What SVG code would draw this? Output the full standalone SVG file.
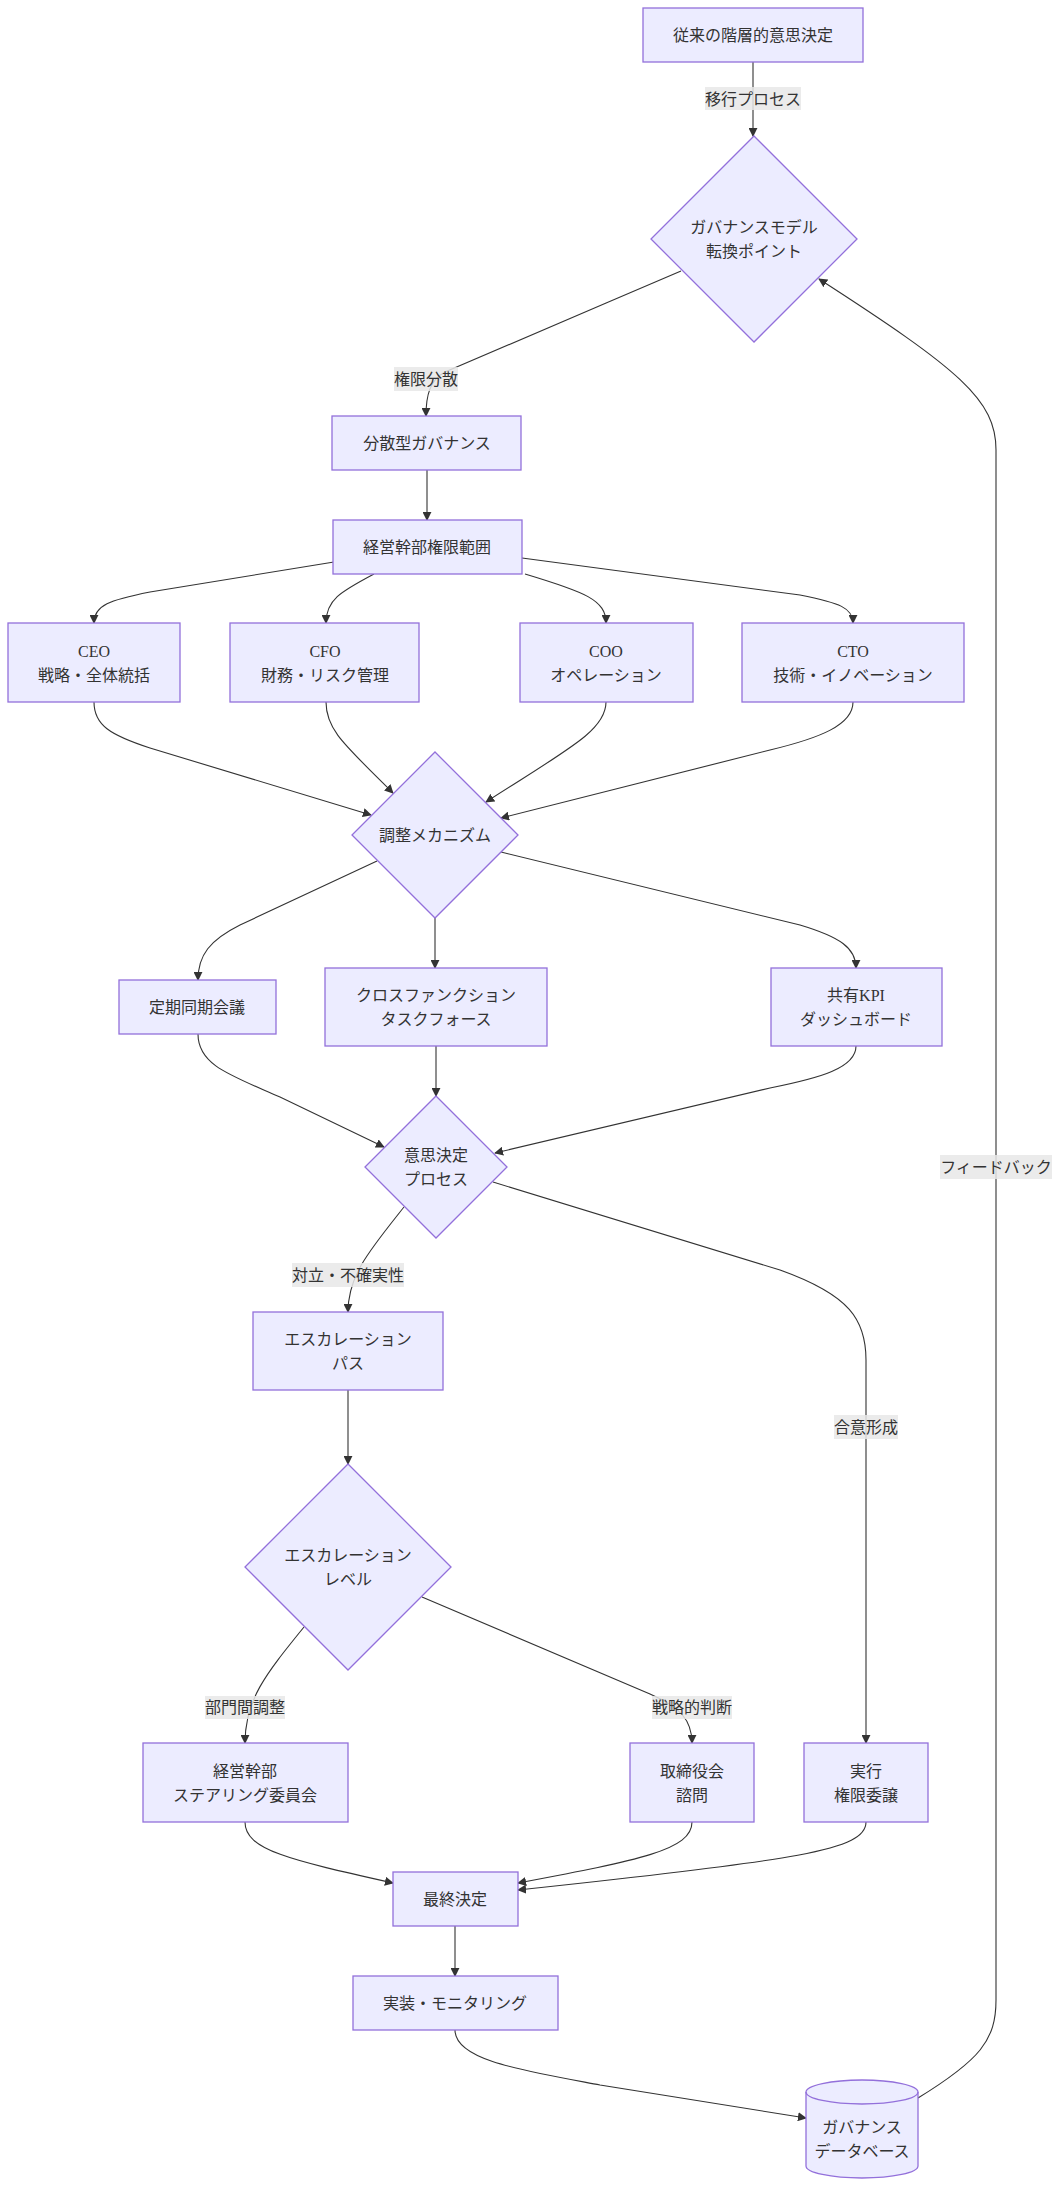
<svg xmlns="http://www.w3.org/2000/svg" width="1060" height="2186" viewBox="0 0 1060 2186">
<style>
.n{fill:#ECECFF;stroke:#9370DB;stroke-width:1.3}
.t{font-family:"Liberation Serif","Noto Sans CJK JP",serif;font-size:16px;fill:#333;text-anchor:middle;dominant-baseline:central}
.e{fill:none;stroke:#333;stroke-width:1.1;marker-end:url(#ah)}
.lb{fill:#e8e8e8;opacity:0.85}
</style>
<defs>
<marker id="ah" viewBox="0 0 10 10" refX="9" refY="5" markerWidth="9" markerHeight="9" markerUnits="userSpaceOnUse" orient="auto">
<path d="M0,0 L10,5 L0,10 z" fill="#333"/>
</marker>
</defs>
<rect width="1060" height="2186" fill="#fff"/>
<g id="connectors">
<path class="e" d="M753,62 L753,136"/>
<path class="e" d="M681,271 C600,306 500,348 445,372 C430,380 426,395 426,416"/>
<path class="e" d="M427,470 L427,520"/>
<path class="e" d="M334,562 L150,592 C110,600 94,605 94,623"/>
<path class="e" d="M374,574 C340,592 326,600 326,623"/>
<path class="e" d="M525,574 C585,592 606,600 606,623"/>
<path class="e" d="M522,558 L800,595 C840,603 853,608 853,623"/>
<path class="e" d="M94,702 C94,725 110,735 150,748 L371,815"/>
<path class="e" d="M326,702 C326,730 345,745 393,793"/>
<path class="e" d="M606,702 C606,730 570,748 486,802"/>
<path class="e" d="M853,702 C853,725 820,738 770,750 L501,818"/>
<path class="e" d="M377,861 L240,925 C210,940 198,955 198,980"/>
<path class="e" d="M435,917 L435,968"/>
<path class="e" d="M501,852 L800,925 C840,937 856,948 856,968"/>
<path class="e" d="M198,1034 C198,1065 230,1075 280,1097 L384,1147"/>
<path class="e" d="M436,1046 L436,1096"/>
<path class="e" d="M856,1046 C856,1068 820,1078 770,1088 L495,1153"/>
<path class="e" d="M404,1207 C370,1250 348,1275 348,1312"/>
<path class="e" d="M493,1182 L780,1270 C850,1295 866,1320 866,1360 L866,1743"/>
<path class="e" d="M348,1390 L348,1464"/>
<path class="e" d="M304,1627 C265,1675 245,1700 245,1743"/>
<path class="e" d="M422,1597 L650,1694 C680,1707 692,1720 692,1743"/>
<path class="e" d="M245,1822 C245,1850 290,1860 393,1883"/>
<path class="e" d="M692,1822 C692,1850 640,1860 518,1883"/>
<path class="e" d="M866,1822 C866,1850 800,1860 518,1890"/>
<path class="e" d="M455,1926 L455,1976"/>
<path class="e" d="M455,2030 C455,2060 520,2070 600,2085 L806,2118"/>
<path class="e" d="M918,2098 C980,2060 996,2040 996,2000 L996,450 C996,400 960,370 819,279"/>
<rect class="lb" x="705" y="87" width="96" height="23"/><text class="t" x="753" y="99">移行プロセス</text>
<rect class="lb" x="394" y="367" width="64" height="24"/><text class="t" x="426" y="379">権限分散</text>
<rect class="lb" x="292" y="1263" width="112" height="24"/><text class="t" x="348" y="1275">対立・不確実性</text>
<rect class="lb" x="205" y="1696" width="80" height="23"/><text class="t" x="245" y="1707">部門間調整</text>
<rect class="lb" x="652" y="1696" width="80" height="23"/><text class="t" x="692" y="1707">戦略的判断</text>
<rect class="lb" x="834" y="1415" width="64" height="24"/><text class="t" x="866" y="1427">合意形成</text>
<rect class="lb" x="940" y="1155" width="112" height="24"/><text class="t" x="996" y="1167">フィードバック</text>
</g>
<g id="n_trad"><rect class="n" x="643" y="8" width="220" height="54"/><text class="t" x="753" y="35">従来の階層的意思決定</text></g>
<g id="n_switch"><polygon class="n" points="754,136 857,239 754,342 651,239"/><text class="t" x="754" y="227">ガバナンスモデル</text><text class="t" x="754" y="251">転換ポイント</text></g>
<g id="n_dist"><rect class="n" x="332" y="416" width="189" height="54"/><text class="t" x="427" y="443">分散型ガバナンス</text></g>
<g id="n_scope"><rect class="n" x="333" y="520" width="189" height="54"/><text class="t" x="427" y="547">経営幹部権限範囲</text></g>
<g id="n_ceo"><rect class="n" x="8" y="623" width="172" height="79"/><text class="t" x="94" y="651">CEO</text><text class="t" x="94" y="675">戦略・全体統括</text></g>
<g id="n_cfo"><rect class="n" x="230" y="623" width="189" height="79"/><text class="t" x="325" y="651">CFO</text><text class="t" x="325" y="675">財務・リスク管理</text></g>
<g id="n_coo"><rect class="n" x="520" y="623" width="173" height="79"/><text class="t" x="606" y="651">COO</text><text class="t" x="606" y="675">オペレーション</text></g>
<g id="n_cto"><rect class="n" x="742" y="623" width="222" height="79"/><text class="t" x="853" y="651">CTO</text><text class="t" x="853" y="675">技術・イノベーション</text></g>
<g id="n_coord"><polygon class="n" points="435,752 518,835 435,918 352,835"/><text class="t" x="435" y="835">調整メカニズム</text></g>
<g id="n_meet"><rect class="n" x="119" y="980" width="157" height="54"/><text class="t" x="197" y="1007">定期同期会議</text></g>
<g id="n_cross"><rect class="n" x="325" y="968" width="222" height="78"/><text class="t" x="436" y="995">クロスファンクション</text><text class="t" x="436" y="1019">タスクフォース</text></g>
<g id="n_kpi"><rect class="n" x="771" y="968" width="171" height="78"/><text class="t" x="856" y="995">共有KPI</text><text class="t" x="856" y="1019">ダッシュボード</text></g>
<g id="n_decide"><polygon class="n" points="436,1096 507,1167 436,1238 365,1167"/><text class="t" x="436" y="1155">意思決定</text><text class="t" x="436" y="1179">プロセス</text></g>
<g id="n_path"><rect class="n" x="253" y="1312" width="190" height="78"/><text class="t" x="348" y="1339">エスカレーション</text><text class="t" x="348" y="1363">パス</text></g>
<g id="n_level"><polygon class="n" points="348,1464 451,1567 348,1670 245,1567"/><text class="t" x="348" y="1555">エスカレーション</text><text class="t" x="348" y="1579">レベル</text></g>
<g id="n_sc"><rect class="n" x="143" y="1743" width="205" height="79"/><text class="t" x="245" y="1771">経営幹部</text><text class="t" x="245" y="1795">ステアリング委員会</text></g>
<g id="n_board"><rect class="n" x="630" y="1743" width="124" height="79"/><text class="t" x="692" y="1771">取締役会</text><text class="t" x="692" y="1795">諮問</text></g>
<g id="n_exec"><rect class="n" x="804" y="1743" width="124" height="79"/><text class="t" x="866" y="1771">実行</text><text class="t" x="866" y="1795">権限委譲</text></g>
<g id="n_final"><rect class="n" x="393" y="1872" width="125" height="54"/><text class="t" x="455" y="1899">最終決定</text></g>
<g id="n_impl"><rect class="n" x="353" y="1976" width="205" height="54"/><text class="t" x="455" y="2003">実装・モニタリング</text></g>
<g id="n_db"><path class="n" d="M806,2092 A56,12 0 0 1 918,2092 L918,2166 A56,12 0 0 1 806,2166 Z"/><path fill="none" stroke="#9370DB" stroke-width="1.3" d="M806,2092 A56,12 0 0 0 918,2092"/><text class="t" x="862" y="2127">ガバナンス</text><text class="t" x="862" y="2151">データベース</text></g>
</svg>
